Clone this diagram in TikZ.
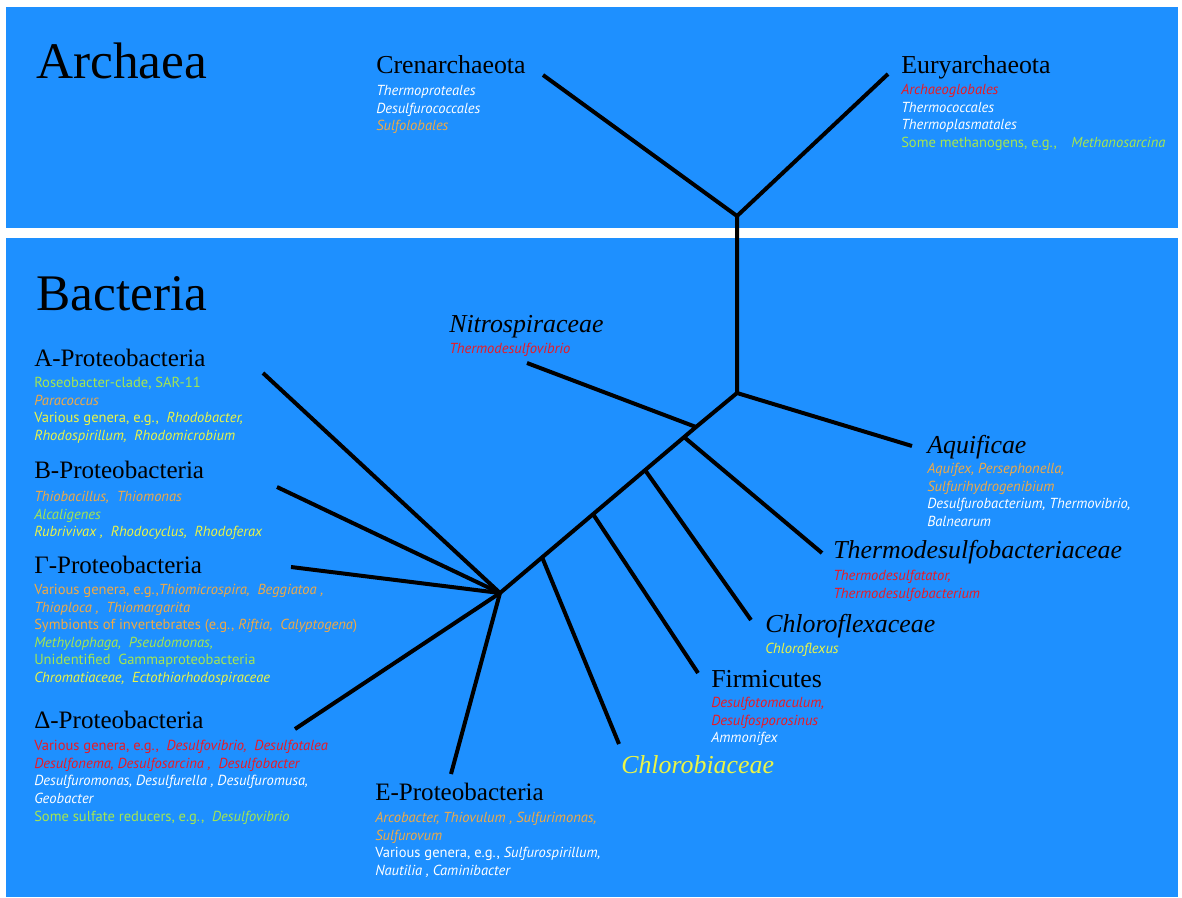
\documentclass[tikz,border=0pt]{standalone}
\usepackage{fontspec}
\setmainfont{Liberation Serif}
\newfontfamily\taxafont{PT Sans}

\definecolor{skyblue}{RGB}{30,144,255}
\definecolor{taxred}{RGB}{235,25,35}
\definecolor{taxorange}{RGB}{240,170,70}
\definecolor{taxgreen}{RGB}{165,230,80}
\definecolor{taxyellow}{RGB}{235,245,70}

\tikzset{
  branch/.style={line width=3pt},
  kingdom/.style={anchor=base west, inner sep=0pt, font=\fontsize{38.5}{40}\selectfont},
  clade/.style={anchor=base west, inner sep=0pt, font=\fontsize{19.4}{22}\selectfont},
  proteo/.style={clade, font=\fontsize{18.8}{22}\selectfont},
  taxa/.style={anchor=north west, inner sep=0pt, align=left, text=white,
    font=\taxafont\fontsize{10.9}{13.2}\selectfont},
}

\begin{document}
\begin{tikzpicture}[x=0.75pt, y=-0.75pt]
    \useasboundingbox[fill=white] (0,0) rectangle (1182,897);
    \fill[skyblue] (6,7) rectangle (1178,228);
    \fill[skyblue] (6,238) rectangle (1178,897);

    % Archaea
    \node[kingdom] (archaea) at (36,78) {Archaea};
    \node[clade] (cren) at (376,73) {Crenarchaeota};
    \node[taxa] (crentaxa) at (376,85) {\textit{Thermoproteales}\\
        \textit{Desulfurococcales}\\
        {\color{taxorange}\textit{Sulfolobales}}};
    \node[clade] (eury) at (901,73) {Euryarchaeota};
    \node[taxa] (eurytaxa) at (901,84) {{\color{taxred}\textit{Archaeoglobales}}\\
        \textit{Thermococcales}\\
        \textit{Thermoplasmatales}\\
        {\color{taxgreen}Some methanogens, e.g.,\quad \textit{Methanosarcina}}};

    % Bacteria
    \node[kingdom] (bacteria) at (36,310) {Bacteria};
    \node[clade] (nitro) at (449,332) {\textit{Nitrospiraceae}};
    \node[taxa] (nitrotaxa) at (449,343) {{\color{taxred}\textit{Thermodesulfovibrio}}};

    \node[proteo] (alpha) at (34,366) {A-Proteobacteria};
    \node[taxa] (alphataxa) at (34,377) {{\color{taxgreen}Roseobacter-clade, SAR-11}\\
        {\color{taxorange}\textit{Paracoccus}}\\
        {\color{taxyellow}Various genera, e.g., \ \textit{Rhodobacter,}}\\
        {\color{taxyellow}\textit{Rhodospirillum, \ Rhodomicrobium}}};

    \node[proteo] (beta) at (34,478) {B-Proteobacteria};
    \node[taxa] (betataxa) at (34,491) {{\color{taxorange}\textit{Thiobacillus, \ Thiomonas}}\\
        {\color{taxgreen}\textit{Alcaligenes}}\\
        {\color{taxyellow}\textit{Rubrivivax , \ Rhodocyclus, \ Rhodoferax}}};

    \node[proteo] (gamma) at (34,573) {Γ-Proteobacteria};
    \node[taxa] (gammataxa) at (34,584) {{\color{taxorange}Various genera, e.g.,\textit{Thiomicrospira, \ Beggiatoa ,}}\\
        {\color{taxorange}\textit{Thioploca , \ Thiomargarita}}\\
        {\color{taxorange}Symbionts of invertebrates (e.g., \textit{Riftia, \ Calyptogena})}\\
        {\color{taxgreen}\textit{Methylophaga, \ Pseudomonas,}}\\
        {\color{taxgreen}Unidentified \ Gammaproteobacteria}\\
        {\color{taxyellow}\textit{Chromatiaceae, \ Ectothiorhodospiraceae}}};

    \node[proteo] (delta) at (34,728) {Δ-Proteobacteria};
    \node[taxa] (deltataxa) at (34,740) {{\color{taxred}Various genera, e.g., \ \textit{Desulfovibrio, \ Desulfotalea}}\\
        {\color{taxred}\textit{Desulfonema, Desulfosarcina , \ Desulfobacter}}\\
        \textit{Desulfuromonas, Desulfurella , Desulfuromusa,}\\
        \textit{Geobacter}\\
        {\color{taxgreen}Some sulfate reducers, e.g., \ \textit{Desulfovibrio}}};

    \node[proteo] (epsilon) at (375,800) {E-Proteobacteria};
    \node[taxa] (epsilontaxa) at (375,812) {{\color{taxorange}\textit{Arcobacter, Thiovulum , Sulfurimonas,}}\\
        {\color{taxorange}\textit{Sulfurovum}}\\
        Various genera, e.g., \textit{Sulfurospirillum,}\\
        \textit{Nautilia , Caminibacter}};

    \node[clade] (aquif) at (927,453) {\textit{Aquificae}};
    \node[taxa] (aquiftaxa) at (927,463) {{\color{taxorange}\textit{Aquifex, Persephonella,}}\\
        {\color{taxorange}\textit{Sulfurihydrogenibium}}\\
        \textit{Desulfurobacterium, Thermovibrio,}\\
        \textit{Balnearum}};

    \node[clade] (thermo) at (833,558) {\textit{Thermodesulfobacteriaceae}};
    \node[taxa] (thermotaxa) at (833,570) {{\color{taxred}\textit{Thermodesulfatator,}}\\
        {\color{taxred}\textit{Thermodesulfobacterium}}};

    \node[clade] (chlflex) at (765,632) {\textit{Chloroflexaceae}};
    \node[taxa] (chlflextaxa) at (765,643) {{\color{taxyellow}\textit{Chloroflexus}}};

    \node[clade] (firmi) at (711,687) {Firmicutes};
    \node[taxa] (firmitaxa) at (711,697) {{\color{taxred}\textit{Desulfotomaculum,}}\\
        {\color{taxred}\textit{Desulfosporosinus}}\\
        \textit{Ammonifex}};

    \node[clade, text=taxyellow] (chlbi) at (621,773) {\textit{Chlorobiaceae}};

    % tree
    \coordinate (arroot) at (737,216);
    \coordinate (crentip) at (543,75);
    \coordinate (eurytip) at (888,74);
    \coordinate (aquinode) at (737,393);
    \coordinate (aquitip) at (912,446);
    \coordinate (nitronode) at (696,427);
    \coordinate (nitrotip) at (527,363);
    \coordinate (hub) at (500,593);
    \coordinate (thermonode) at (684,437);
    \coordinate (thermotip) at (822,553);
    \coordinate (flexnode) at (645,470);
    \coordinate (flextip) at (751,620);
    \coordinate (firminode) at (593,514);
    \coordinate (firmitip) at (698,673);
    \coordinate (chlbinode) at (542,557);
    \coordinate (chlbitip) at (619,744);
    \coordinate (alphatip) at (263,373);
    \coordinate (betatip) at (277,487);
    \coordinate (gammatip) at (291,567);
    \coordinate (deltatip) at (295,729);
    \coordinate (epsilontip) at (451,774);

    \draw[branch] (crentip) -- (arroot) -- (eurytip);
    \draw[branch] (arroot) -- (aquinode) -- (nitronode) -- (hub);
    \draw[branch] (aquinode) -- (aquitip);
    \draw[branch] (nitronode) -- (nitrotip);
    \draw[branch] (thermonode) -- (thermotip);
    \draw[branch] (flexnode) -- (flextip);
    \draw[branch] (firminode) -- (firmitip);
    \draw[branch] (chlbinode) -- (chlbitip);
    \draw[branch] (hub) -- (alphatip);
    \draw[branch] (hub) -- (betatip);
    \draw[branch] (hub) -- (gammatip);
    \draw[branch] (hub) -- (deltatip);
    \draw[branch] (hub) -- (epsilontip);
\end{tikzpicture}
\end{document}
